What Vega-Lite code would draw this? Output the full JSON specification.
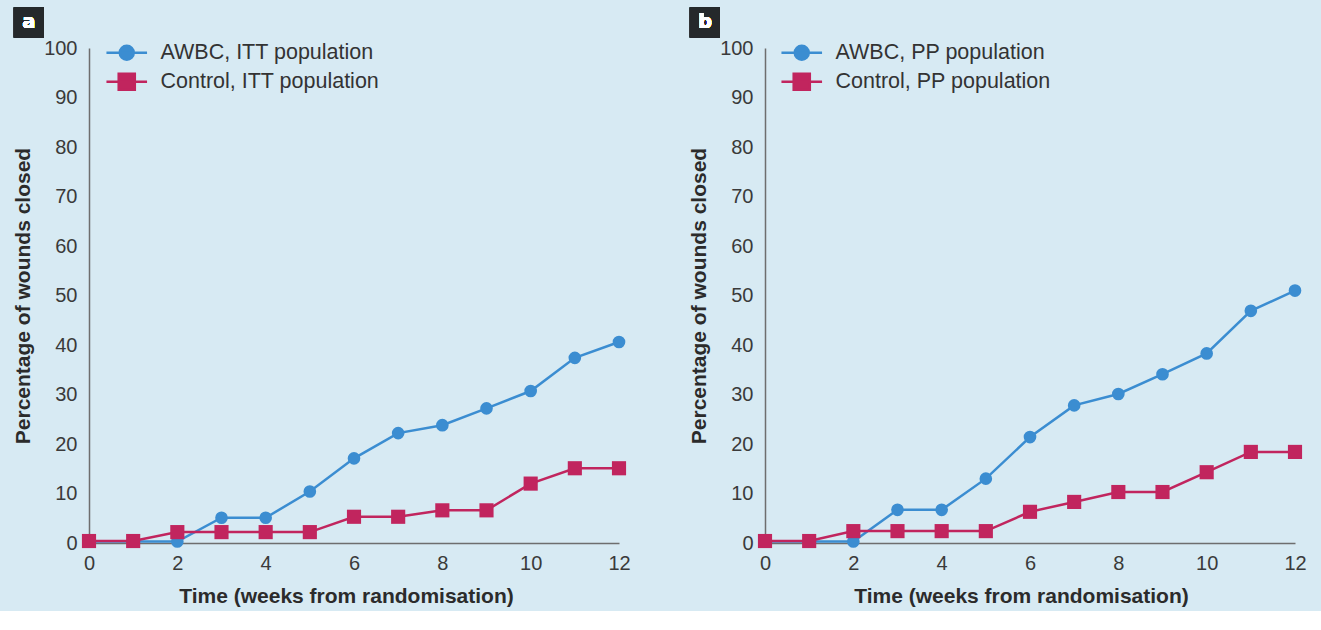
{
  "$schema": "https://vega.github.io/schema/vega-lite/v6.json",
  "background": "#d7eaf3",
  "padding": {"left": 12, "top": 7, "right": 5, "bottom": 5},
  "spacing": 48,
  "config": {
    "view": {"stroke": null},
    "font": "Liberation Sans",
    "axis": {
      "domainColor": "#6e6e6e",
      "domainWidth": 1.5,
      "ticks": false,
      "grid": false,
      "labelFlush": false,
      "labelFont": "Liberation Sans",
      "labelFontSize": 20,
      "labelColor": "#3a3a3a",
      "titleFont": "Liberation Sans",
      "titleFontSize": 21,
      "titleFontWeight": "bold",
      "titleColor": "#2b2b2b"
    },
    "legend": {
      "title": null,
      "orient": "none",
      "padding": 0,
      "symbolSize": 196,
      "symbolStrokeWidth": 2.5,
      "labelOffset": 23,
      "labelFontSize": 21.5,
      "labelLimit": 0,
      "labelColor": "#333333",
      "labelFont": "Liberation Sans"
    }
  },
  "data": {
    "values": [
      {"panel": "a", "group": "AWBC", "week": 0, "pct": 0.3},
      {"panel": "a", "group": "AWBC", "week": 1, "pct": 0.3},
      {"panel": "a", "group": "AWBC", "week": 2, "pct": 0.3},
      {"panel": "a", "group": "AWBC", "week": 3, "pct": 5.1},
      {"panel": "a", "group": "AWBC", "week": 4, "pct": 5.1},
      {"panel": "a", "group": "AWBC", "week": 5, "pct": 10.4},
      {"panel": "a", "group": "AWBC", "week": 6, "pct": 17.1},
      {"panel": "a", "group": "AWBC", "week": 7, "pct": 22.2},
      {"panel": "a", "group": "AWBC", "week": 8, "pct": 23.8},
      {"panel": "a", "group": "AWBC", "week": 9, "pct": 27.2},
      {"panel": "a", "group": "AWBC", "week": 10, "pct": 30.7},
      {"panel": "a", "group": "AWBC", "week": 11, "pct": 37.4},
      {"panel": "a", "group": "AWBC", "week": 12, "pct": 40.6},
      {"panel": "a", "group": "Control", "week": 0, "pct": 0.4},
      {"panel": "a", "group": "Control", "week": 1, "pct": 0.4},
      {"panel": "a", "group": "Control", "week": 2, "pct": 2.2},
      {"panel": "a", "group": "Control", "week": 3, "pct": 2.2},
      {"panel": "a", "group": "Control", "week": 4, "pct": 2.2},
      {"panel": "a", "group": "Control", "week": 5, "pct": 2.2},
      {"panel": "a", "group": "Control", "week": 6, "pct": 5.3},
      {"panel": "a", "group": "Control", "week": 7, "pct": 5.3},
      {"panel": "a", "group": "Control", "week": 8, "pct": 6.6},
      {"panel": "a", "group": "Control", "week": 9, "pct": 6.6},
      {"panel": "a", "group": "Control", "week": 10, "pct": 12.0},
      {"panel": "a", "group": "Control", "week": 11, "pct": 15.1},
      {"panel": "a", "group": "Control", "week": 12, "pct": 15.1},
      {"panel": "b", "group": "AWBC", "week": 0, "pct": 0.3},
      {"panel": "b", "group": "AWBC", "week": 1, "pct": 0.3},
      {"panel": "b", "group": "AWBC", "week": 2, "pct": 0.3},
      {"panel": "b", "group": "AWBC", "week": 3, "pct": 6.7},
      {"panel": "b", "group": "AWBC", "week": 4, "pct": 6.7},
      {"panel": "b", "group": "AWBC", "week": 5, "pct": 13.0},
      {"panel": "b", "group": "AWBC", "week": 6, "pct": 21.4},
      {"panel": "b", "group": "AWBC", "week": 7, "pct": 27.8},
      {"panel": "b", "group": "AWBC", "week": 8, "pct": 30.1},
      {"panel": "b", "group": "AWBC", "week": 9, "pct": 34.1},
      {"panel": "b", "group": "AWBC", "week": 10, "pct": 38.3},
      {"panel": "b", "group": "AWBC", "week": 11, "pct": 46.9},
      {"panel": "b", "group": "AWBC", "week": 12, "pct": 51.0},
      {"panel": "b", "group": "Control", "week": 0, "pct": 0.4},
      {"panel": "b", "group": "Control", "week": 1, "pct": 0.4},
      {"panel": "b", "group": "Control", "week": 2, "pct": 2.4},
      {"panel": "b", "group": "Control", "week": 3, "pct": 2.4},
      {"panel": "b", "group": "Control", "week": 4, "pct": 2.4},
      {"panel": "b", "group": "Control", "week": 5, "pct": 2.4},
      {"panel": "b", "group": "Control", "week": 6, "pct": 6.3},
      {"panel": "b", "group": "Control", "week": 7, "pct": 8.3},
      {"panel": "b", "group": "Control", "week": 8, "pct": 10.3},
      {"panel": "b", "group": "Control", "week": 9, "pct": 10.3},
      {"panel": "b", "group": "Control", "week": 10, "pct": 14.3},
      {"panel": "b", "group": "Control", "week": 11, "pct": 18.4},
      {"panel": "b", "group": "Control", "week": 12, "pct": 18.4}
    ]
  },
  "resolve": {"scale": {"shape": "independent"}},
  "hconcat": [
    {
      "width": 530,
      "height": 495,
      "transform": [{"filter": "datum.panel == 'a'"}],
      "resolve": {"scale": {"shape": "independent"}},
      "encoding": {
        "x": {"field": "week", "type": "quantitative", "scale": {"domain": [0, 12], "nice": false},
              "axis": {"values": [0, 2, 4, 6, 8, 10, 12], "labelPadding": 10, "titlePadding": 12, "titleX": 257, "title": "Time (weeks from randomisation)"}},
        "y": {"field": "pct", "type": "quantitative", "scale": {"domain": [0, 100], "nice": false},
              "axis": {"values": [0, 10, 20, 30, 40, 50, 60, 70, 80, 90, 100], "labelPadding": 12, "titlePadding": 10, "title": "Percentage of wounds closed"}}
      },
      "layer": [
        {"transform": [{"filter": "datum.group == 'AWBC'"}], "mark": {"type": "line", "color": "#3b8dd1", "strokeWidth": 2.5}},
        {"transform": [{"filter": "datum.group == 'AWBC'"}], "mark": {"type": "point", "shape": "circle", "filled": true, "opacity": 1, "size": 160, "color": "#3b8dd1"}},
        {"transform": [{"filter": "datum.group == 'Control'"}], "mark": {"type": "line", "color": "#c1255e", "strokeWidth": 2.5}},
        {"transform": [{"filter": "datum.group == 'Control'"}], "mark": {"type": "point", "shape": "square", "filled": true, "opacity": 1, "size": 200, "color": "#c1255e"}},
        {
          "transform": [{"filter": "datum.group == 'AWBC'"}],
          "mark": {"type": "point", "filled": true, "opacity": 0, "size": 196, "color": "#3b8dd1", "stroke": "#3b8dd1", "strokeWidth": 2.5},
          "encoding": {
            "shape": {"field": "group", "type": "nominal", "scale": {"domain": ["AWBC"], "range": ["M-2.9,0L2.9,0M1,0A1,1,0,1,1,-1,0A1,1,0,1,1,1,0Z"]},
                      "legend": {"legendX": 27, "legendY": -6, "labelExpr": "datum.label + ', ITT population'"}}
          }
        },
        {
          "transform": [{"filter": "datum.group == 'Control'"}],
          "mark": {"type": "point", "filled": true, "opacity": 0, "size": 196, "color": "#c1255e", "stroke": "#c1255e", "strokeWidth": 2.5},
          "encoding": {
            "shape": {"field": "group", "type": "nominal", "scale": {"domain": ["Control"], "range": ["M-2.9,0L2.9,0M-1.15,-1.15L1.15,-1.15L1.15,1.15L-1.15,1.15Z"]},
                      "legend": {"legendX": 27, "legendY": 23, "labelExpr": "datum.label + ', ITT population'"}}
          }
        },
        {
          "mark": {"type": "rect", "color": "#25292b"},
          "encoding": {"x": {"datum": -1.7}, "x2": {"datum": -1.02}, "y": {"datum": 108.2}, "y2": {"datum": 102.1}}
        },
        {
          "mark": {"type": "text", "text": "a", "color": "white", "fontWeight": "bold", "fontSize": 19, "font": "DejaVu Sans", "baseline": "middle", "align": "center"},
          "encoding": {"x": {"datum": -1.36}, "y": {"datum": 105.3}}
        }
      ]
    },
    {
      "width": 530,
      "height": 495,
      "transform": [{"filter": "datum.panel == 'b'"}],
      "resolve": {"scale": {"shape": "independent"}},
      "encoding": {
        "x": {"field": "week", "type": "quantitative", "scale": {"domain": [0, 12], "nice": false},
              "axis": {"values": [0, 2, 4, 6, 8, 10, 12], "labelPadding": 10, "titlePadding": 12, "titleX": 256, "title": "Time (weeks from randomisation)"}},
        "y": {"field": "pct", "type": "quantitative", "scale": {"domain": [0, 100], "nice": false},
              "axis": {"values": [0, 10, 20, 30, 40, 50, 60, 70, 80, 90, 100], "labelPadding": 12, "titlePadding": 10, "title": "Percentage of wounds closed"}}
      },
      "layer": [
        {"transform": [{"filter": "datum.group == 'AWBC'"}], "mark": {"type": "line", "color": "#3b8dd1", "strokeWidth": 2.5}},
        {"transform": [{"filter": "datum.group == 'AWBC'"}], "mark": {"type": "point", "shape": "circle", "filled": true, "opacity": 1, "size": 160, "color": "#3b8dd1"}},
        {"transform": [{"filter": "datum.group == 'Control'"}], "mark": {"type": "line", "color": "#c1255e", "strokeWidth": 2.5}},
        {"transform": [{"filter": "datum.group == 'Control'"}], "mark": {"type": "point", "shape": "square", "filled": true, "opacity": 1, "size": 200, "color": "#c1255e"}},
        {
          "transform": [{"filter": "datum.group == 'AWBC'"}],
          "mark": {"type": "point", "filled": true, "opacity": 0, "size": 196, "color": "#3b8dd1", "stroke": "#3b8dd1", "strokeWidth": 2.5},
          "encoding": {
            "shape": {"field": "group", "type": "nominal", "scale": {"domain": ["AWBC"], "range": ["M-2.9,0L2.9,0M1,0A1,1,0,1,1,-1,0A1,1,0,1,1,1,0Z"]},
                      "legend": {"legendX": 26, "legendY": -6, "labelExpr": "datum.label + ', PP population'"}}
          }
        },
        {
          "transform": [{"filter": "datum.group == 'Control'"}],
          "mark": {"type": "point", "filled": true, "opacity": 0, "size": 196, "color": "#c1255e", "stroke": "#c1255e", "strokeWidth": 2.5},
          "encoding": {
            "shape": {"field": "group", "type": "nominal", "scale": {"domain": ["Control"], "range": ["M-2.9,0L2.9,0M-1.15,-1.15L1.15,-1.15L1.15,1.15L-1.15,1.15Z"]},
                      "legend": {"legendX": 26, "legendY": 23, "labelExpr": "datum.label + ', PP population'"}}
          }
        },
        {
          "mark": {"type": "rect", "color": "#25292b"},
          "encoding": {"x": {"datum": -1.7}, "x2": {"datum": -1.02}, "y": {"datum": 108.2}, "y2": {"datum": 102.1}}
        },
        {
          "mark": {"type": "text", "text": "b", "color": "white", "fontWeight": "bold", "fontSize": 19, "font": "DejaVu Sans", "baseline": "middle", "align": "center"},
          "encoding": {"x": {"datum": -1.36}, "y": {"datum": 105.3}}
        }
      ]
    }
  ]
}
